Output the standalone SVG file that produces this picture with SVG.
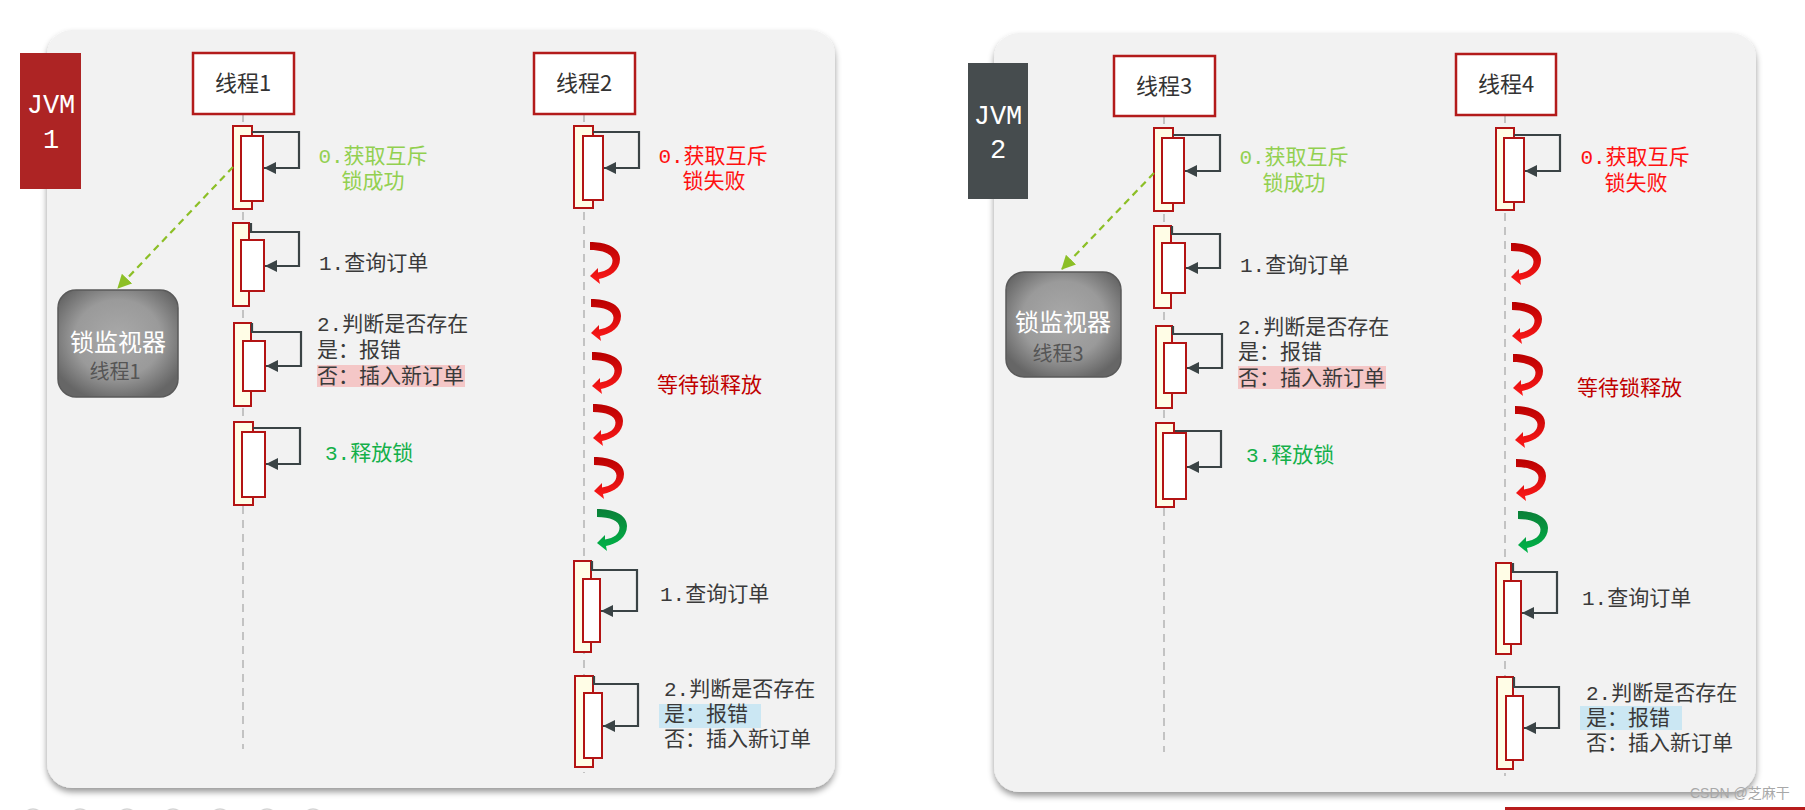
<svg xmlns="http://www.w3.org/2000/svg" width="1805" height="810" viewBox="0 0 1805 810">
<defs>
<style>
.panel{fill:#f2f2f2;filter:url(#shadow)}
.tbox{fill:#ffffff;stroke:#b31b1b;stroke-width:2.5}
.ttl{font-family:"Noto Sans CJK SC","Noto Sans",sans-serif;font-size:22px;fill:#333333;text-anchor:middle}
.life{stroke:#c3c3c3;stroke-width:2;stroke-dasharray:8 6;fill:none}
.ao{fill:#fffde6;stroke:#b31414;stroke-width:2}
.ai{fill:#ffffff;stroke:#b31414;stroke-width:2}
.self{fill:none;stroke:#3a4345;stroke-width:2.2;marker-end:url(#ah)}
.dash{fill:none;stroke:#8cbf26;stroke-width:2.2;stroke-dasharray:7 5;marker-end:url(#gh)}
.lbl{font-family:"Liberation Mono","Noto Sans CJK SC",monospace;font-size:21px}
.dk{fill:#3a3a3a}
.lg{fill:#92d050}
.gr{fill:#14b04a}
.rd{fill:#ff1010}
.dr{fill:#c00000}
.jvm{font-family:"Liberation Mono","DejaVu Sans Mono",monospace;font-size:27px;fill:#ffffff;text-anchor:middle}
.mon{fill:url(#mg);stroke:#5a5a5a;stroke-width:1.5}
.mt1{font-family:"Noto Sans CJK SC",sans-serif;font-size:24px;fill:#ffffff;text-anchor:middle}
.mt2{font-family:"Noto Sans CJK SC",sans-serif;font-size:20px;fill:#555555;text-anchor:middle}
</style>
<filter id="shadow" x="-5%" y="-5%" width="110%" height="112%">
<feDropShadow dx="0" dy="4" stdDeviation="3" flood-color="#000" flood-opacity="0.4"/>
</filter>
<radialGradient id="mg" cx="50%" cy="45%" r="60%">
<stop offset="0" stop-color="#a9a9a9"/>
<stop offset="0.6" stop-color="#9a9a9a"/>
<stop offset="1" stop-color="#666666"/>
</radialGradient>
<linearGradient id="rg" x1="0" y1="0" x2="0" y2="1">
<stop offset="0" stop-color="#b80000"/>
<stop offset="1" stop-color="#ff1a1a"/>
</linearGradient>
<linearGradient id="ggr" x1="0" y1="0" x2="0" y2="1">
<stop offset="0" stop-color="#0a7f38"/>
<stop offset="1" stop-color="#00b548"/>
</linearGradient>
<marker id="ah" markerUnits="userSpaceOnUse" markerWidth="12" markerHeight="12" refX="12" refY="6" orient="auto">
<path d="M0,0 L12,6 L0,12 z" fill="#3a4345"/>
</marker>
<marker id="gh" markerUnits="userSpaceOnUse" markerWidth="14" markerHeight="14" refX="13" refY="7" orient="auto">
<path d="M0,0 L14,7 L0,14 z" fill="#8cbf26"/>
</marker>
<path id="curl" d="M0,0 C15,0 30,5 30,17 C30,28 20,35 9,37 L10,42 L0,34 L8,26 L8,30.5 C17,29 22.5,25 22.5,18.5 C22.5,12 13,8 0,8 Z"/>
</defs>

<rect x="0" y="0" width="1805" height="810" fill="#ffffff"/>

<!-- panels -->
<g id="panel1"><rect class="panel" x="47" y="30" width="788" height="758" rx="25"/></g>
<g id="panel2"><rect class="panel" x="994" y="33" width="762" height="759" rx="25"/></g>

<!-- bottom partial circles -->
<g id="bottom-dots" fill="none" stroke="#d4d4d4" stroke-width="1.5">
<circle cx="33" cy="819" r="10"/><circle cx="80" cy="819" r="10"/><circle cx="127" cy="819" r="10"/><circle cx="173" cy="819" r="10"/><circle cx="220" cy="819" r="10"/><circle cx="267" cy="819" r="10"/><circle cx="313" cy="819" r="10"/>
</g>

<!-- JVM labels -->
<g id="jvm1">
<rect x="20" y="53" width="61" height="136" fill="#ad2424"/>
<text class="jvm" x="51" y="113">JVM</text>
<text class="jvm" x="51" y="148">1</text>
</g>
<g id="jvm2">
<rect x="968" y="63" width="60" height="136" fill="#464c4e"/>
<text class="jvm" x="998" y="124">JVM</text>
<text class="jvm" x="998" y="158">2</text>
</g>

<!-- lifelines -->
<g id="lifelines">
<line class="life" x1="243" y1="114" x2="243" y2="749"/>
<line class="life" x1="584" y1="114" x2="584" y2="773"/>
<line class="life" x1="1164" y1="116" x2="1164" y2="752"/>
<line class="life" x1="1505" y1="115" x2="1505" y2="776"/>
</g>

<!-- thread heads -->
<g id="thread1"><rect class="tbox" x="193" y="53" width="101" height="61"/><text class="ttl" x="243" y="91">线程1</text></g>
<g id="thread2"><rect class="tbox" x="534" y="53" width="101" height="61"/><text class="ttl" x="584" y="91">线程2</text></g>
<g id="thread3"><rect class="tbox" x="1114" y="56" width="101" height="60"/><text class="ttl" x="1164" y="94">线程3</text></g>
<g id="thread4"><rect class="tbox" x="1456" y="54" width="100" height="61"/><text class="ttl" x="1506" y="92">线程4</text></g>

<!-- lock monitors -->
<g id="monitor1">
<rect class="mon" x="58" y="290" width="120" height="107" rx="18"/>
<text class="mt1" x="118" y="351">锁监视器</text>
<text class="mt2" x="115" y="379">线程1</text>
</g>
<g id="monitor2">
<rect class="mon" x="1006" y="272" width="115" height="105" rx="18"/>
<text class="mt1" x="1063" y="331">锁监视器</text>
<text class="mt2" x="1058" y="361">线程3</text>
</g>

<!-- activations thread1 -->
<g id="t1-act0"><rect class="ao" x="233" y="126" width="19" height="83"/><rect class="ai" x="241" y="136" width="22" height="65"/></g>
<g id="t1-act1"><rect class="ao" x="233" y="223" width="16" height="83"/><rect class="ai" x="241" y="240" width="23" height="51"/></g>
<g id="t1-act2"><rect class="ao" x="234" y="323" width="17" height="83"/><rect class="ai" x="243" y="341" width="22" height="50"/></g>
<g id="t1-act3"><rect class="ao" x="234" y="422" width="19" height="83"/><rect class="ai" x="242" y="432" width="23" height="65"/></g>

<!-- activations thread2 -->
<g id="t2-act0"><rect class="ao" x="574" y="126" width="19" height="82"/><rect class="ai" x="583" y="136" width="20" height="64"/></g>
<g id="t2-act1"><rect class="ao" x="574" y="561" width="17" height="91"/><rect class="ai" x="583" y="579" width="17" height="63"/></g>
<g id="t2-act2"><rect class="ao" x="575" y="676" width="18" height="91"/><rect class="ai" x="584" y="693" width="18" height="65"/></g>

<!-- activations thread3 -->
<g id="t3-act0"><rect class="ao" x="1154" y="128" width="19" height="83"/><rect class="ai" x="1162" y="138" width="22" height="65"/></g>
<g id="t3-act1"><rect class="ao" x="1154" y="226" width="17" height="82"/><rect class="ai" x="1162" y="243" width="23" height="50"/></g>
<g id="t3-act2"><rect class="ao" x="1156" y="326" width="16" height="82"/><rect class="ai" x="1164" y="343" width="22" height="50"/></g>
<g id="t3-act3"><rect class="ao" x="1156" y="423" width="18" height="84"/><rect class="ai" x="1163" y="433" width="23" height="66"/></g>

<!-- activations thread4 -->
<g id="t4-act0"><rect class="ao" x="1496" y="128" width="18" height="82"/><rect class="ai" x="1504" y="138" width="20" height="64"/></g>
<g id="t4-act1"><rect class="ao" x="1496" y="563" width="15" height="91"/><rect class="ai" x="1504" y="581" width="17" height="63"/></g>
<g id="t4-act2"><rect class="ao" x="1497" y="677" width="16" height="92"/><rect class="ai" x="1506" y="696" width="17" height="64"/></g>

<!-- waiting curls -->
<g id="wait2">
<use href="#curl" x="590" y="242" fill="url(#rg)"/>
<use href="#curl" x="591" y="299" fill="url(#rg)"/>
<use href="#curl" x="592" y="352" fill="url(#rg)"/>
<use href="#curl" x="593" y="404" fill="url(#rg)"/>
<use href="#curl" x="594" y="457" fill="url(#rg)"/>
<use href="#curl" x="597" y="509" fill="url(#ggr)"/>
</g>
<g id="wait4">
<use href="#curl" x="1511" y="243" fill="url(#rg)"/>
<use href="#curl" x="1512" y="302" fill="url(#rg)"/>
<use href="#curl" x="1513" y="354" fill="url(#rg)"/>
<use href="#curl" x="1515" y="406" fill="url(#rg)"/>
<use href="#curl" x="1516" y="459" fill="url(#rg)"/>
<use href="#curl" x="1518" y="511" fill="url(#ggr)"/>
</g>

<!-- connectors -->
<g id="connectors">
<path class="self" d="M252,132 H299 V168 H264"/>
<path class="self" d="M251,223 V232 H299 V266 H265"/>
<path class="self" d="M252,323 V332 H301 V366 H266"/>
<path class="self" d="M253,428 H300 V464 H266"/>
<path class="self" d="M593,132 H639 V168 H604"/>
<path class="self" d="M592,561 V570 H637 V611 H601"/>
<path class="self" d="M594,676 V684 H638 V726 H603"/>
<path class="self" d="M1173,135 H1220 V171 H1185"/>
<path class="self" d="M1172,226 V234 H1220 V268 H1186"/>
<path class="self" d="M1173,326 V334 H1222 V368 H1187"/>
<path class="self" d="M1175,431 H1221 V467 H1187"/>
<path class="self" d="M1514,135 H1560 V171 H1525"/>
<path class="self" d="M1513,563 V572 H1557 V613 H1522"/>
<path class="self" d="M1514,677 V687 H1559 V728 H1524"/>
<path class="dash" d="M233,167 L118,288"/>
<path class="dash" d="M1154,173 L1062,269"/>
</g>

<!-- labels thread1 -->
<g id="t1-labels">
<text class="lbl lg" x="373" y="163" text-anchor="middle">0.获取互斥</text>
<text class="lbl lg" x="373" y="188" text-anchor="middle">锁成功</text>
<text class="lbl dk" x="319" y="270">1.查询订单</text>
<rect x="317" y="365" width="148" height="22" fill="#f4c7c7"/>
<text class="lbl dk" x="317" y="331">2.判断是否存在</text>
<text class="lbl dk" x="317" y="357">是：报错</text>
<text class="lbl dk" x="317" y="383">否：插入新订单</text>
<text class="lbl gr" x="325" y="460">3.释放锁</text>
</g>

<!-- labels thread2 -->
<g id="t2-labels">
<text class="lbl rd" x="713" y="163" text-anchor="middle">0.获取互斥</text>
<text class="lbl rd" x="714" y="188" text-anchor="middle">锁失败</text>
<text class="lbl dr" x="657" y="392">等待锁释放</text>
<text class="lbl dk" x="660" y="601">1.查询订单</text>
<rect x="659" y="704" width="102" height="24" fill="#cbe7f3"/>
<text class="lbl dk" x="664" y="696">2.判断是否存在</text>
<text class="lbl dk" x="664" y="721">是：报错</text>
<text class="lbl dk" x="664" y="746">否：插入新订单</text>
</g>

<!-- labels thread3 -->
<g id="t3-labels">
<text class="lbl lg" x="1294" y="164" text-anchor="middle">0.获取互斥</text>
<text class="lbl lg" x="1294" y="190" text-anchor="middle">锁成功</text>
<text class="lbl dk" x="1240" y="272">1.查询订单</text>
<rect x="1238" y="366" width="148" height="23" fill="#f4c7c7"/>
<text class="lbl dk" x="1238" y="334">2.判断是否存在</text>
<text class="lbl dk" x="1238" y="359">是：报错</text>
<text class="lbl dk" x="1238" y="385">否：插入新订单</text>
<text class="lbl gr" x="1246" y="462">3.释放锁</text>
</g>

<!-- labels thread4 -->
<g id="t4-labels">
<text class="lbl rd" x="1635" y="164" text-anchor="middle">0.获取互斥</text>
<text class="lbl rd" x="1636" y="190" text-anchor="middle">锁失败</text>
<text class="lbl dr" x="1577" y="395">等待锁释放</text>
<text class="lbl dk" x="1582" y="605">1.查询订单</text>
<rect x="1580" y="706" width="102" height="24" fill="#cbe7f3"/>
<text class="lbl dk" x="1586" y="700">2.判断是否存在</text>
<text class="lbl dk" x="1586" y="725">是：报错</text>
<text class="lbl dk" x="1586" y="750">否：插入新订单</text>
</g>

<!-- watermark & bottom bar -->
<g id="watermark">
<text x="1690" y="798" font-family="Liberation Sans,'Noto Sans CJK SC',sans-serif" font-size="14" fill="#a8a8a8">CSDN @芝麻干</text>
<rect x="1505" y="807" width="300" height="3" fill="#b71c1c"/>
</g>
</svg>
